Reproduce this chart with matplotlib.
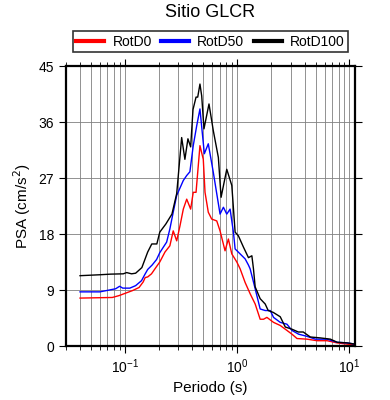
import matplotlib
matplotlib.use("Agg")
import matplotlib.pyplot as plt
from matplotlib.ticker import LogLocator, NullFormatter

plt.rcParams['font.family'] = ['Liberation Sans', 'DejaVu Sans']

# RotD0 (rojo)
T_d0 = [0.04, 0.0775, 0.089, 0.102, 0.117, 0.134, 0.146, 0.152, 0.160, 0.173, 0.189,
        0.205, 0.228, 0.252, 0.270, 0.290, 0.310, 0.332, 0.356, 0.386,
        0.407, 0.431, 0.467, 0.500, 0.518, 0.554, 0.594, 0.659, 0.705, 0.781, 0.836,
        0.897, 0.994, 1.064, 1.179, 1.306, 1.448, 1.604, 1.718, 1.841, 2.109, 2.42,
        2.778, 3.078, 3.413, 4.19, 5.15, 6.32, 7.77, 9.53, 11.2]
psa_d0 = [7.7, 7.8, 8.1, 8.5, 8.9, 9.4, 10.3, 11.0, 11.1, 11.6, 12.6,
          13.5, 15.1, 16.1, 18.5, 16.9, 19.3, 22.0, 23.6, 22.0,
          24.7, 24.7, 32.2, 30.0, 24.7, 21.5, 20.4, 20.1, 18.5, 15.3, 17.2,
          14.8, 13.5, 12.4, 10.2, 8.4, 6.75, 4.3, 4.3, 4.6, 3.8, 3.3,
          2.5, 1.9, 1.2, 1.1, 0.85, 0.85, 0.5, 0.3, 0.2]

# RotD50 (azul)
T_d50 = [0.04, 0.06, 0.073, 0.083, 0.090, 0.096, 0.111, 0.125, 0.141, 0.151, 0.160,
         0.175, 0.192, 0.205, 0.236, 0.252, 0.270, 0.290, 0.332, 0.356, 0.380, 0.407,
         0.437, 0.467, 0.511, 0.554, 0.614, 0.705, 0.755, 0.809, 0.866, 0.927, 0.960,
         1.064, 1.179, 1.262, 1.306, 1.448, 1.604, 1.778, 1.972, 2.109, 2.42, 2.778,
         3.078, 3.527, 4.19, 4.97, 6.32, 7.77, 9.53, 11.2]
psa_d50 = [8.7, 8.7, 9.0, 9.2, 9.6, 9.3, 9.3, 9.7, 10.5, 11.5, 12.3,
           13.0, 13.9, 15.0, 16.7, 18.8, 21.5, 24.2, 26.6, 27.4, 28.0, 32.2,
           35.4, 38.1, 30.9, 32.5, 27.9, 21.2, 22.3, 21.2, 22.0, 18.3, 15.6,
           14.8, 14.0, 13.0, 12.4, 9.2, 5.95, 5.7, 5.7, 4.6, 3.8, 3.5,
           2.5, 1.9, 1.55, 1.1, 1.1, 0.6, 0.5, 0.3]

# RotD100 (negro)
T_d100 = [0.04, 0.06, 0.075, 0.097, 0.104, 0.115, 0.125, 0.142, 0.160, 0.174, 0.193,
          0.205, 0.232, 0.263, 0.290, 0.321, 0.343, 0.365, 0.386, 0.405, 0.431, 0.446,
          0.467, 0.484, 0.507, 0.562, 0.614, 0.681, 0.720, 0.809, 0.897, 0.960, 1.027,
          1.138, 1.262, 1.353, 1.398, 1.448, 1.604, 1.778, 1.891, 2.096, 2.42, 2.684,
          3.078, 3.505, 3.88, 4.48, 5.51, 6.77, 7.77, 9.53, 11.2]
psa_d100 = [11.3, 11.45, 11.55, 11.6, 11.8, 11.6, 11.7, 12.6, 15.1, 16.4, 16.4,
            18.3, 19.6, 21.2, 24.5, 33.5, 30.0, 33.3, 32.0, 38.0, 40.0, 40.0,
            42.1, 40.2, 34.9, 38.9, 34.6, 30.3, 23.9, 28.4, 25.8, 18.3, 17.7,
            15.9, 14.2, 14.5, 12.4, 9.5, 7.6, 6.75, 5.7, 5.4, 4.7, 3.05,
            2.7, 2.25, 2.25, 1.45, 1.3, 1.1, 0.6, 0.5, 0.3]

yticks = [0, 9, 18, 27, 36, 45]

fig = plt.figure(figsize=(3.9, 4.0), dpi=100)
ax = fig.add_axes([66 / 390, 54 / 400, 289 / 390, 280 / 400])

ax.plot(T_d0, psa_d0, color='red', lw=1.0, label='RotD0')
ax.plot(T_d50, psa_d50, color='blue', lw=1.0, label='RotD50')
ax.plot(T_d100, psa_d100, color='black', lw=1.0, label='RotD100')

ax.set_xscale('log')
ax.set_xlim(0.03, 11.2)
ax.set_ylim(0, 45)
ax.set_yticks(yticks)
ax.xaxis.set_major_locator(LogLocator(base=10))
ax.xaxis.set_minor_locator(LogLocator(base=10, subs=range(2, 10)))
ax.xaxis.set_minor_formatter(NullFormatter())

ax.grid(True, which='major', color='#808080', lw=0.6)
ax.grid(True, which='minor', axis='x', color='#808080', lw=0.6)
ax.set_axisbelow(True)

for s in ax.spines.values():
    s.set_linewidth(1.6)
ax.tick_params(which='both', direction='out', top=True, right=True, labelsize=10)
ax.tick_params(which='major', length=5, width=0.8)
ax.tick_params(which='minor', length=3, width=0.6)

ax.set_xlabel('Periodo (s)', fontsize=11, labelpad=3)
ax.set_ylabel('PSA (cm/s$^2$)', fontsize=11, labelpad=4)
ax.text(0.5, 1.19, 'Sitio GLCR', transform=ax.transAxes, ha='center', va='center', fontsize=13)

leg = ax.legend(loc='lower left', bbox_to_anchor=(0.024, 1.05, 0.952, 0.075), mode='expand',
                ncol=3, fontsize=10, frameon=True, fancybox=False, borderaxespad=0,
                handlelength=2.0, handletextpad=0.6, columnspacing=1.0, borderpad=0.25)
leg.get_frame().set_edgecolor('black')
leg.get_frame().set_linewidth(1.2)
for h in leg.get_lines():
    h.set_linewidth(3)

fig.savefig('out.png', dpi=100)
